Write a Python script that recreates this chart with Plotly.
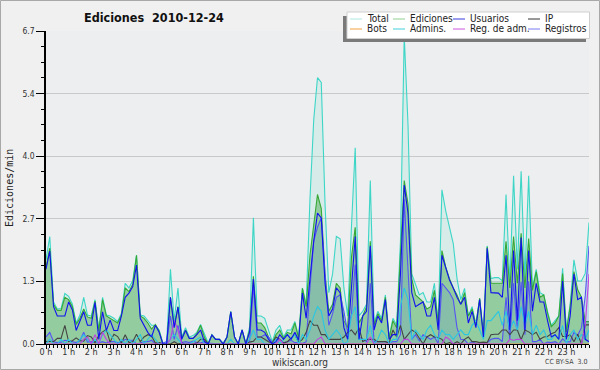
import plotly.graph_objects as go

# ---- data (edits per minute, 10-minute steps from 0:00 to 24:00) ----
total = [1.8, 2.3, 0.9, 0.75, 0.76, 1.08, 1.02, 0.85, 0.45, 0.62, 1.0, 0.62, 0.6, 0.95, 0.3, 1.0, 0.62, 0.6, 0.55, 0.48, 0.66, 1.3, 1.2, 1.36, 1.9, 0.62, 0.6, 0.5, 0.4, 0.4, 0.3,
         0.02, 0.05, 1.6, 0.5, 1.2, 0.15, 0.35, 0.15, 0.18, 0.25, 0.42, 0.2, 0.02, 0.2, 0.1, 0.1, 0.02, 0.15, 0.7, 0.15, 0.0, 0.3, 0.0, 0.37, 2.7, 0.6,
         0.6, 0.55, 0.3, 0.05, 0.3, 0.4, 0.15, 0.3, 0.3, 0.48, 0.15, 1.2, 0.85, 3.1, 4.8, 5.7, 5.6, 3.0, 1.1, 1.5, 2.3, 2.25, 1.2, 0.6, 2.5, 4.2, 0.6,
         0.7, 0.85, 3.5, 0.45, 0.7, 0.55, 1.05, 0.15, 0.55, 0.4, 2.2, 6.6, 4.7, 1.5, 1.25, 1.05, 1.1, 0.9, 0.9, 1.3, 0.45, 3.3, 2.85, 2.5, 2.15, 1.4, 0.95, 1.19, 0.6, 0.8,
         0.42, 0.98, 0.2, 2.1, 1.4, 1.42, 1.42, 1.35, 3.2, 1.3, 3.6, 1.6, 3.7, 1.4, 3.6, 1.2, 1.6, 1.1, 1.05, 0.7, 0.4, 0.5, 0.6, 1.62, 0.3, 0.85, 1.8, 1.35, 1.35, 1.51, 2.6]
ediciones = [1.65, 2.05, 0.85, 0.72, 0.72, 1.0, 0.95, 0.8, 0.42, 0.55, 0.75, 0.58, 0.55, 0.92, 0.28, 0.95, 0.6, 0.55, 0.5, 0.45, 0.62, 1.2, 1.12, 1.28, 1.9, 0.6, 0.55, 0.45, 0.32, 0.42, 0.28,
             0.0, 0.0, 1.0, 0.4, 0.8, 0.12, 0.3, 0.12, 0.12, 0.22, 0.4, 0.15, 0.0, 0.19, 0.1, 0.1, 0.0, 0.15, 0.69, 0.15, 0.0, 0.3, 0.0, 0.3, 1.45, 0.45,
             0.45, 0.35, 0.15, 0.02, 0.2, 0.3, 0.12, 0.25, 0.22, 0.45, 0.12, 1.19, 0.8, 1.9, 2.6, 3.2, 2.9, 1.5, 0.7, 0.85, 1.3, 1.2, 0.5, 0.35, 1.85, 2.5, 0.45,
             0.6, 0.8, 2.2, 0.4, 0.65, 0.5, 1.0, 0.12, 0.5, 0.35, 2.0, 3.5, 3.0, 1.4, 1.05, 0.98, 0.9, 0.75, 0.8, 1.15, 0.44, 2.0, 1.65, 1.4, 1.2, 1.05, 0.85, 1.1, 0.6, 0.75,
             0.41, 0.98, 0.19, 2.08, 1.3, 1.3, 1.3, 1.3, 2.2, 1.2, 2.3, 1.3, 2.37, 1.2, 2.26, 1.15, 1.55, 1.0, 1.05, 0.66, 0.37, 0.45, 0.6, 1.51, 0.26, 0.8, 1.55, 1.16, 1.0, 0.48, 0.48]
usuarios = [1.6, 1.99, 0.8, 0.6, 0.6, 0.6, 0.9, 0.73, 0.29, 0.48, 0.69, 0.4, 0.4, 0.89, 0.1, 0.69, 0.29, 0.51, 0.29, 0.29, 0.6, 1.0, 1.09, 1.23, 1.69, 0.55, 0.4, 0.25, 0.15, 0.4, 0.25,
            0.0, 0.0, 1.0, 0.35, 0.79, 0.1, 0.29, 0.12, 0.12, 0.2, 0.3, 0.05, 0.0, 0.19, 0.1, 0.1, 0.0, 0.15, 0.69, 0.15, 0.0, 0.3, 0.0, 0.26, 1.39, 0.3,
            0.3, 0.25, 0.1, 0.0, 0.05, 0.2, 0.1, 0.2, 0.1, 0.25, 0.08, 1.09, 0.55, 1.4, 2.2, 2.8, 2.7, 1.3, 0.6, 0.75, 1.2, 1.1, 0.35, 0.1, 1.3, 2.3, 0.1,
            0.6, 0.7, 2.1, 0.3, 0.6, 0.45, 0.95, 0.1, 0.2, 0.2, 1.5, 3.4, 2.8, 1.1, 0.8, 0.85, 0.9, 0.6, 0.6, 1.0, 0.3, 1.9, 1.65, 1.37, 1.2, 1.0, 0.85, 1.0, 0.45, 0.7,
            0.35, 0.95, 0.15, 2.05, 1.1, 1.09, 1.09, 1.0, 1.9, 0.3, 2.0, 0.5, 2.28, 0.3, 2.0, 0.7, 1.3, 0.9, 0.9, 0.5, 0.15, 0.2, 0.1, 1.35, 0.1, 0.6, 1.5, 0.95, 1.0, 0.1, 0.05]
ip = [0.05, 0.06, 0.05, 0.12, 0.12, 0.4, 0.05, 0.07, 0.13, 0.07, 0.06, 0.18, 0.15, 0.03, 0.18, 0.26, 0.31, 0.04, 0.21, 0.16, 0.02, 0.2, 0.03, 0.05, 0.21, 0.05, 0.15, 0.2, 0.17, 0.02, 0.03,
      0.0, 0.0, 0.0, 0.05, 0.0, 0.02, 0.0, 0.0, 0.0, 0.02, 0.1, 0.1, 0.0, 0.0, 0.0, 0.0, 0.0, 0.0, 0.0, 0.0, 0.0, 0.0, 0.0, 0.04, 0.06, 0.15,
      0.15, 0.1, 0.05, 0.02, 0.15, 0.1, 0.02, 0.05, 0.12, 0.2, 0.04, 0.1, 0.25, 0.5, 0.4, 0.4, 0.2, 0.2, 0.1, 0.1, 0.1, 0.1, 0.15, 0.25, 0.3, 0.2, 0.35,
      0.05, 0.1, 0.1, 0.1, 0.05, 0.05, 0.05, 0.02, 0.3, 0.15, 0.4, 0.1, 0.2, 0.3, 0.25, 0.13, 0.0, 0.15, 0.2, 0.15, 0.14, 0.1, 0.0, 0.03, 0.0, 0.05, 0.0, 0.1, 0.15, 0.05,
      0.05, 0.03, 0.04, 0.03, 0.2, 0.21, 0.21, 0.3, 0.3, 0.2, 0.3, 0.3, 0.09, 0.3, 0.26, 0.2, 0.25, 0.1, 0.15, 0.16, 0.22, 0.25, 0.35, 0.16, 0.16, 0.2, 0.05, 0.21, 0.0, 0.41, 0.41]
bots = [0.0] * 145
admins = [0.0, 0.1, 0.0, 0.0, 0.1, 0.0, 0.1, 0.0, 0.0, 0.1, 0.2, 0.1, 0.0, 0.1, 0.0, 0.2, 0.3, 0.2, 0.1, 0.0, 0.1, 0.0, 0.1, 0.0, 0.1, 0.2, 0.0, 0.1, 0.2, 0.1, 0.0,
          0.0, 0.0, 0.1, 0.2, 0.1, 0.0, 0.0, 0.0, 0.05, 0.1, 0.15, 0.0, 0.0, 0.0, 0.0, 0.0, 0.0, 0.0, 0.1, 0.0, 0.0, 0.0, 0.0, 0.1, 0.3, 0.1,
          0.1, 0.0, 0.0, 0.0, 0.1, 0.0, 0.1, 0.2, 0.1, 0.2, 0.0, 0.2, 0.1, 0.3, 0.6, 0.8, 0.7, 0.3, 0.1, 0.2, 0.3, 0.2, 0.0, 0.05, 0.6, 0.8, 0.1,
          0.1, 0.1, 0.4, 0.0, 0.1, 0.3, 0.2, 0.0, 0.1, 0.1, 0.8, 1.2, 0.95, 0.1, 0.3, 0.2, 0.1, 0.3, 0.4, 0.2, 0.1, 0.3, 0.2, 0.2, 0.1, 0.2, 0.3, 0.2, 0.2, 0.4,
          0.5, 0.3, 0.1, 0.5, 0.5, 0.6, 0.7, 0.4, 0.7, 0.3, 0.5, 0.3, 0.8, 0.4, 0.7, 0.2, 0.4, 0.2, 0.3, 0.1, 0.1, 0.2, 0.1, 0.4, 0.0, 0.2, 0.3, 0.1, 0.2, 0.1, 0.3]
reg_adm = [0, 0, 0, 0, 0, 0, 0, 0, 0, 0, 0.1, 0.15, 0, 0.2, 0, 0.25, 0.1, 0, 0, 0, 0, 0, 0, 0, 0, 0, 0, 0, 0, 0, 0,
           0, 0, 0.1, 0.5, 0.3, 0, 0, 0, 0, 0, 0, 0, 0, 0, 0, 0, 0, 0, 0, 0, 0, 0, 0, 0, 0, 0,
           0, 0, 0, 0, 0, 0.1, 0, 0, 0, 0, 0, 0, 0, 0, 0, 0.1, 0.15, 0, 0, 0, 0, 0, 0, 0, 0, 0, 0,
           0, 0, 0.15, 0, 0, 0, 0, 0, 0, 0, 0, 0.1, 0.1, 0, 0, 0, 0, 0, 0, 0, 0, 0, 0.15, 0.1, 0, 0, 0, 0, 0, 0,
           0, 0, 0, 0, 0, 0, 0, 0, 0, 0.1, 0.08, 0.1, 0.1, 0, 0, 0, 0, 0, 0, 0, 0, 0, 0, 0, 0, 0, 0, 0, 0, 0.4, 1.5]
registros = [0.15, 0.25, 0.05, 0.03, 0.04, 0.08, 0.07, 0.05, 0.03, 0.07, 0.25, 0.04, 0.05, 0.03, 0.02, 0.05, 0.02, 0.05, 0.05, 0.03, 0.04, 0.1, 0.08, 0.08, 0.0, 0.02, 0.05, 0.05, 0.08, 0.0, 0.02,
             0.02, 0.05, 0.6, 0.1, 0.4, 0.03, 0.05, 0.03, 0.06, 0.03, 0.02, 0.05, 0.02, 0.01, 0.0, 0.0, 0.02, 0.0, 0.01, 0.0, 0.0, 0.0, 0.0, 0.07, 1.25, 0.15,
             0.15, 0.2, 0.15, 0.03, 0.1, 0.1, 0.03, 0.05, 0.08, 0.03, 0.03, 0.01, 0.05, 1.2, 2.2, 2.5, 2.7, 1.5, 0.4, 0.65, 1.0, 1.05, 0.7, 0.25, 0.65, 1.7, 0.15,
             0.1, 0.05, 1.3, 0.05, 0.05, 0.05, 0.05, 0.03, 0.05, 0.05, 0.2, 3.1, 1.7, 0.1, 0.2, 0.07, 0.2, 0.15, 0.1, 0.15, 0.01, 1.3, 1.2, 1.1, 0.95, 0.35, 0.1, 0.09, 0.0, 0.05,
             0.01, 0.0, 0.01, 0.02, 0.1, 0.12, 0.12, 0.05, 1.0, 0.1, 1.3, 0.3, 1.33, 0.2, 1.34, 0.05, 0.05, 0.1, 0.0, 0.04, 0.03, 0.05, 0.0, 0.11, 0.04, 0.05, 0.25, 0.19, 0.35, 1.03, 2.1]

hours = [i / 6 for i in range(145)]          # time of each sample, in hours
hour_ticks = list(range(24))
hour_labels = [f"{h} h" for h in hour_ticks]
y_ticks = [0, 1.34, 2.68, 4.02, 5.36, 6.7]
y_labels = ["0.0", "1.3", "2.7", "4.0", "5.4", "6.7"]

for s in (total, ediciones, usuarios, ip, admins, reg_adm, registros):
    assert len(s) == 145, len(s)

# ---- geometry helpers (pixel -> paper) ----
L, R, T, B = 46, 589, 31, 344
def px(x):
    return (x - L) / (R - L)
def py(y):
    return (B - y) / (B - T)

COND = "DejaVu Sans Condensed"

fig = go.Figure()
def line(y, color, width=1.1, fill=None, fillcolor=None, name=""):
    fig.add_trace(go.Scatter(x=hours, y=y, mode="lines", name=name,
                             line=dict(color=color, width=width),
                             fill=fill, fillcolor=fillcolor, showlegend=False))

line(total, "#3dd6c6", fill="tozeroy", fillcolor="rgba(120,225,205,0.18)", name="Total")
line(ediciones, "#35a835", fill="tozeroy", fillcolor="rgba(130,198,140,0.80)", name="Ediciones")
line(registros, "#5555f2", fill="tozeroy", fillcolor="rgba(70,110,230,0.16)", name="Registros")
line(bots, "#f0a040", name="Bots")
line(ip, "#444444", name="IP")
line(admins, "#2ac6e2", name="Admins.")
line(reg_adm, "#c040e0", name="Reg. de adm.")
line(usuarios, "#1212ee", name="Usuarios")

shapes = []
annotations = []
# page border
shapes.append(dict(type="rect", xref="paper", yref="paper", x0=px(0.5), x1=px(599.5), y0=py(0.5), y1=py(369.5),
                   line=dict(color="#a8a8a8", width=1), fillcolor="rgba(0,0,0,0)", layer="below"))
# legend box with shadow
shapes.append(dict(type="rect", xref="paper", yref="paper", x0=px(343), x1=px(586), y0=py(16), y1=py(42),
                   line=dict(width=0), fillcolor="#7a7a7a"))
shapes.append(dict(type="rect", xref="paper", yref="paper", x0=px(347), x1=px(589.5), y0=py(12), y1=py(38.5),
                   line=dict(color="#cfcfcf", width=1), fillcolor="#ffffff"))
legend_items = [("Total", "#aee6e4", 350, 19), ("Ediciones", "#8fd08f", 393, 19), ("Usuarios", "#3a3ae0", 453, 19), ("IP", "#333333", 528, 19),
                ("Bots", "#f5a040", 350, 29), ("Admins.", "#40d0dc", 393, 29), ("Reg. de adm.", "#cc55dd", 453, 29), ("Registros", "#7b7bee", 528, 29)]
for name, col, x0, yc in legend_items:
    shapes.append(dict(type="line", xref="paper", yref="paper", x0=px(x0), x1=px(x0 + 12), y0=py(yc), y1=py(yc),
                       line=dict(color=col, width=1)))
    annotations.append(dict(xref="paper", yref="paper", x=px(x0 + 15), y=py(yc), text=name, showarrow=False,
                            xanchor="left", yanchor="middle", font=dict(family=COND, size=10, color="#222")))

# title & texts
annotations.append(dict(xref="paper", yref="paper", x=px(154), y=py(17), text="<b>Ediciones  2010-12-24</b>", showarrow=False,
                        xanchor="center", yanchor="middle", font=dict(family=COND, size=12.5, color="#111")))
annotations.append(dict(xref="paper", yref="paper", x=px(9), y=py(188), text="Ediciones/min", showarrow=False, textangle=-90,
                        xanchor="center", yanchor="middle", font=dict(family="DejaVu Sans Mono", size=10, color="#222")))
annotations.append(dict(xref="paper", yref="paper", x=px(300), y=py(362), text="wikiscan.org", showarrow=False,
                        xanchor="center", yanchor="middle", font=dict(family=COND, size=10, color="#333")))
annotations.append(dict(xref="paper", yref="paper", x=px(589), y=py(362), text="CC BY-SA  3.0", showarrow=False,
                        xanchor="right", yanchor="middle", font=dict(family=COND, size=7, color="#444")))

fig.update_layout(
    width=600, height=370,
    margin=dict(l=L, r=600 - R, t=T, b=370 - B, pad=0),
    paper_bgcolor="#f0f0f0", plot_bgcolor="#eceef0",
    shapes=shapes, annotations=annotations,
    xaxis=dict(range=[0, 24], tickvals=hour_ticks, ticktext=hour_labels, ticks="outside", ticklen=4, tickwidth=1,
               tickcolor="#000", showline=True, linecolor="#000", linewidth=1, showgrid=False, zeroline=False,
               ticklabelstandoff=-5,
               tickfont=dict(family=COND, size=9, color="#333"),
               minor=dict(dtick=1 / 6, tick0=0, ticks="outside", ticklen=3, tickcolor="#000", showgrid=False)),
    yaxis=dict(range=[0, 6.7], tickvals=y_ticks, ticktext=y_labels, ticks="outside", ticklen=8, tickwidth=1,
               tickcolor="#000", showline=True, linecolor="#000", linewidth=1.5, showgrid=True, gridcolor="#c9c9c9",
               gridwidth=1, zeroline=False,
               tickfont=dict(family=COND, size=8.5, color="#333"),
               minor=dict(dtick=0.335, tick0=0, ticks="outside", ticklen=3, tickcolor="#000", showgrid=False)),
)

fig.write_html("out.html", config={"displayModeBar": False},
               post_script="document.body.style.margin='0';document.body.style.overflow='hidden';")
